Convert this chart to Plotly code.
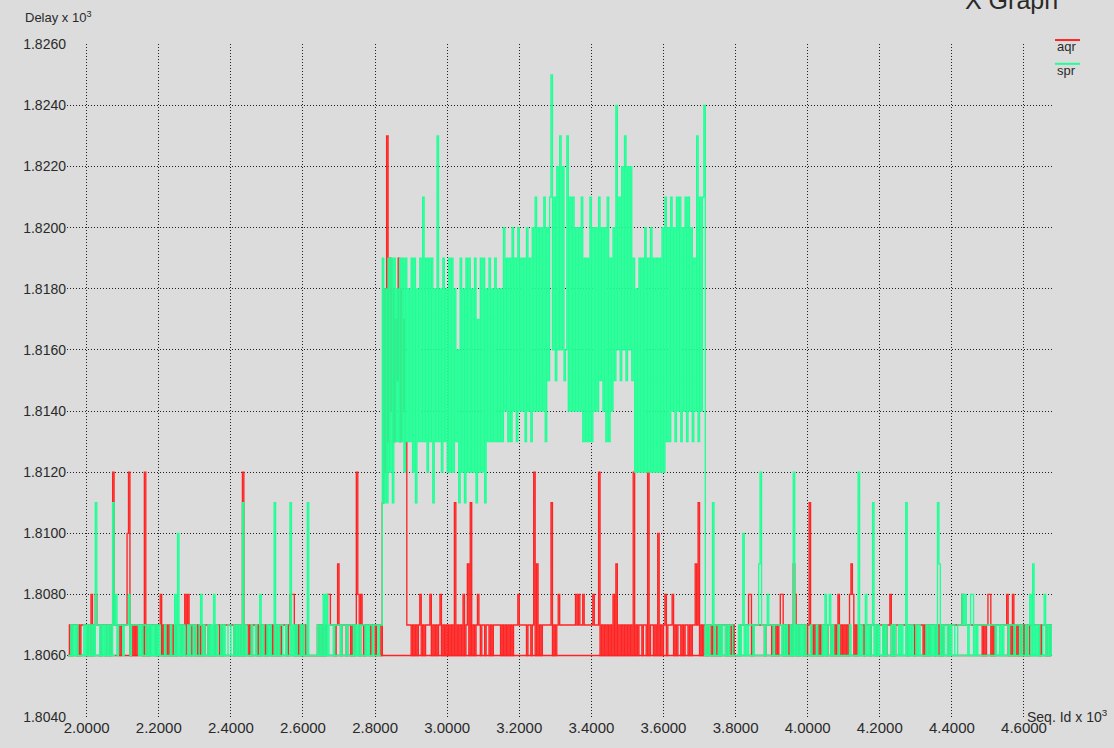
import plotly.graph_objects as go

# ---------------- data ----------------
# Samples every 4 sequence ids; each row of characters covers 200 ids,
# starting at seq 1948 + 200*row. Character = delay - 1806 (base-36 digit).
SEQ_START = 1948
ROW_SPAN = 200
SEQ_STEP = 4
BASE_DELAY = 1806

aqr_rows = [
    "01011101011110102012110111011016111101111460101011",
    "11060101111011201010101010110112021011010101011010",
    "01011010111111101101060110101110101101011010101011",
    "11012220101010100000000101010122111013101110110101",
    "6202101111011011105c6h7d8c7b9d7c8b7111010101201011",
    "12010101201010101050101020130501012101101101011111",
    "01010101011121111101101603010111111501012111111111",
    "11212112111111211160101010102030101010101060101101",
    "10601101040101201112010110101101011315010110110101",
    "01011101010100001111112201111111101111010101220101",
    "01032010110101501010101011011010102010101023201011",
    "11011101110111101011201011111111011110111110101011",
    "10110101110111111111211111111111110101220101111111",
    "120102010101010101111111011101010",
]

spr_rows = [
    "00101010000101010105110101010105120111011120111110",
    "10110101010101000100010020401010010110100120100101",
    "02010010100110010101050100010010020100101005010110",
    "01005010100101005000000101020201110111101110111101",
    "010111010110111011d5c5d6d5d7c7d7d6d7c7d6d5c7d7f7d6",
    "d7d5c7h7c6d7c6d6d6c7a5d6c5d6d6c6d5b6d6d5c7d7c7d7c7",
    "c7e8d7d7e8d7e8d8d7e8d7e8f8e8e8f7e9fjaf9gahag9ah8f8",
    "f8e8e8f7d7d7f7e8e8f9e8e7f7d8e9iaf9gah9gag9d6c6d6d6",
    "e6d6e6d6d6d6e6f7e7f8e7f8f7e8f7f8e7d8h7f8fi01011501",
    "10101101011000010140101110111361101211101111101010",
    "01060101010100010001000102012010001000000010000060",
    "10020101501010010100010100101005010100101000010101",
    "01053010110101100111212101220101111111111110110101",
    "110111011101001012030101001201010",
]

# stretches (seq ids) where each series also rests on its 1806 floor
aqr_floor = [(1948, 4676)]
spr_floor = [(1948, 2079), (2153, 2816), (3712, 4676)]

x_ticks = [2.0, 2.2, 2.4, 2.6, 2.8, 3.0, 3.2, 3.4, 3.6, 3.8, 4.0, 4.2, 4.4, 4.6]
y_ticks = [1.804, 1.806, 1.808, 1.810, 1.812, 1.814, 1.816, 1.818, 1.820,
           1.822, 1.824, 1.826]

series_names = ["aqr", "spr"]

# ---------------- helpers ----------------
def decode(rows):
    xs, ys = [], []
    for k, row in enumerate(rows):
        for i, c in enumerate(row):
            xs.append((SEQ_START + ROW_SPAN * k + SEQ_STEP * i) / 1000.0)
            ys.append((BASE_DELAY + int(c, 36)) / 1000.0)
    return xs, ys


def floor(segs):
    xs, ys = [], []
    for a, b in segs:
        xs += [a / 1000.0, b / 1000.0, None]
        ys += [BASE_DELAY / 1000.0, BASE_DELAY / 1000.0, None]
    return xs, ys


BG = "#dcdcdc"
RED = "#ff2424"
GREEN = "#20ff96"
TXT = "#2a2a2a"
LW = 1.35

fig = go.Figure()
for rows, segs, col, name in [(aqr_rows, aqr_floor, RED, series_names[0]),
                              (spr_rows, spr_floor, GREEN, series_names[1])]:
    fx, fy = floor(segs)
    fig.add_trace(go.Scatter(x=fx, y=fy, mode="lines", name=name,
                             line=dict(color=col, width=1.6, simplify=False),
                             showlegend=False, hoverinfo="skip"))
    x, y = decode(rows)
    fig.add_trace(go.Scatter(x=x, y=y, mode="lines", name=name,
                             line=dict(color=col, width=LW, simplify=False,
                                       shape="hv"),
                             showlegend=False))

L, R, T, B = 67, 62, 44, 25
W, H = 1114, 748
pw, ph = W - L - R, H - T - B


def px(xp):
    return (xp - L) / pw


def py(yp):
    return (H - B - yp) / ph


fig.update_layout(
    width=W, height=H,
    margin=dict(l=L, r=R, t=T, b=B),
    paper_bgcolor=BG, plot_bgcolor=BG,
    showlegend=False,
    font=dict(family="Liberation Sans, Arial, sans-serif", color=TXT, size=14),
)
fig.update_xaxes(
    range=[1.9454, 4.6777], tickvals=x_ticks,
    ticktext=[f"{v:.4f}" for v in x_ticks],
    showgrid=True, gridcolor="#202020", gridwidth=1, griddash="1px,2px",
    zeroline=False, showline=False, ticks="", tickfont=dict(size=15),
)
fig.update_yaxes(
    range=[1.80399, 1.82601], tickvals=y_ticks,
    ticktext=[f"{v:.4f}" for v in y_ticks],
    showgrid=True, gridcolor="#202020", gridwidth=1, griddash="1px,2px",
    zeroline=False, showline=False, ticks="", tickfont=dict(size=14),
    ticklabelstandoff=0,
)

ann = [
    dict(text="Delay x 10<sup>3</sup>", x=px(23), y=py(17), xanchor="left",
         yanchor="middle", font=dict(size=13)),
    dict(text="Seq. Id x 10<sup>3</sup>", x=px(1025), y=py(722), xanchor="left",
         yanchor="middle", font=dict(size=14)),
    dict(text="X Graph", x=px(1011), y=py(0), xanchor="center",
         yanchor="middle", font=dict(size=25)),
    dict(text=series_names[0], x=px(1055), y=py(47), xanchor="left",
         yanchor="middle", font=dict(size=13)),
    dict(text=series_names[1], x=px(1055), y=py(71), xanchor="left",
         yanchor="middle", font=dict(size=13)),
]
for a in ann:
    a.update(xref="paper", yref="paper", showarrow=False)
fig.update_layout(annotations=ann)

fig.update_layout(shapes=[
    dict(type="line", xref="paper", yref="paper", x0=px(1055), x1=px(1080),
         y0=py(40), y1=py(40), line=dict(color=RED, width=2)),
    dict(type="line", xref="paper", yref="paper", x0=px(1055), x1=px(1080),
         y0=py(64), y1=py(64), line=dict(color=GREEN, width=2)),
])

fig.write_html("out.html", config={"displayModeBar": False},
               post_script="document.body.style.margin='0px';")
